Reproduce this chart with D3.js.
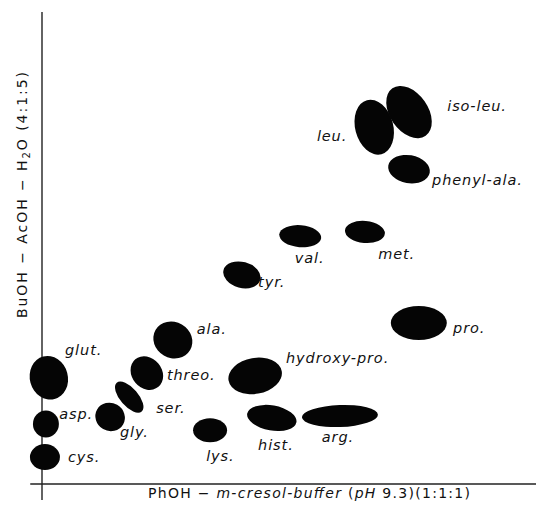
<!DOCTYPE html>
<html>
<head>
<meta charset="utf-8">
<script src="https://cdn.jsdelivr.net/npm/d3@7/dist/d3.min.js"></script>
<style>
  html, body { margin: 0; padding: 0; background: #fff; }
  svg { display: block; }
  .lbl { font-family: "DejaVu Sans", sans-serif; font-style: italic; font-size: 14.5px; letter-spacing: 0.9px; fill: #111; }
  .axl { font-family: "DejaVu Sans", sans-serif; font-size: 14px; fill: #111; }
</style>
</head>
<body>
<svg id="chart" width="536" height="516"></svg>
<script>
// Amino acid spots: Rf (x: PhOH – m-cresol-buffer, y: BuOH – AcOH – H2O), in % of the paper
const names   = ["cys.", "asp.", "glut.", "gly.", "ser.", "threo.", "ala.", "lys.", "tyr.",
                 "hydroxy-pro.", "hist.", "val.", "arg.", "met.", "leu.", "iso-leu.", "phenyl-ala.", "pro."];
const rfX     = [0.6, 0.8, 1.4, 13.9, 17.8, 21.4, 26.7, 34.3, 40.8, 43.5, 46.9, 52.7, 60.8, 65.9, 67.8, 74.9, 74.9, 76.9];
const rfY     = [5.7, 12.7, 22.5, 14.2, 18.4, 23.5, 30.5, 11.4, 44.3, 22.9, 14.0, 52.5, 14.4, 53.4, 75.6, 78.8, 66.7, 34.1];
// spot half-spread along its own axes (same units) and tilt (deg)
const spreadX = [3.06, 2.65, 3.88, 3.06, 1.84, 3.06, 4.08, 3.47, 3.88, 5.51, 5.10, 4.29, 7.76, 4.08, 3.88, 3.88, 4.29, 5.71];
const spreadY = [2.75, 2.86, 4.66, 2.97, 4.03, 3.81, 3.81, 2.54, 2.75, 3.81, 2.65, 2.33, 2.33, 2.33, 5.93, 6.14, 2.97, 3.60];
const tilt    = [0, 0, -15, 30, -41, -40, 30, 0, 15, -10, 10, 5, -2, 5, -15, -35, 10, 0];
// label anchors (same units)
const labX    = [5.3, 3.5, 4.7, 15.9, 23.3, 25.5, 31.6, 33.5, 44.1, 49.8, 44.1, 51.6, 57.1, 68.6, 56.1, 82.7, 79.6, 83.9];
const labY    = [4.7, 13.8, 27.3, 10.0, 15.0, 22.0, 31.8, 4.9, 41.7, 25.6, 7.2, 46.8, 8.9, 47.7, 72.7, 79.0, 63.3, 32.0];

const spots = names.map((n, i) => ({name: n, x: rfX[i], y: rfY[i], sx: spreadX[i], sy: spreadY[i], t: tilt[i], lx: labX[i], ly: labY[i]}));

const svg = d3.select("#chart");
const x = d3.scaleLinear().domain([0, 100]).range([42, 532]);
const y = d3.scaleLinear().domain([0, 100]).range([484, 12]);

// axes
svg.append("line").attr("x1", x(0)).attr("x2", x(0)).attr("y1", y(100)).attr("y2", y(-3.4))
  .attr("stroke", "#222").attr("stroke-width", 1.4);
svg.append("line").attr("x1", x(-2.4)).attr("x2", 536).attr("y1", y(0)).attr("y2", y(0))
  .attr("stroke", "#222").attr("stroke-width", 1.4);

// spots
svg.append("g").selectAll("ellipse").data(spots).join("ellipse")
  .attr("transform", d => `translate(${x(d.x)},${y(d.y)}) rotate(${d.t})`)
  .attr("rx", d => x(d.sx) - x(0))
  .attr("ry", d => y(0) - y(d.sy))
  .attr("fill", "#050505");

// labels
svg.append("g").selectAll("text").data(spots).join("text")
  .attr("class", "lbl")
  .attr("x", d => x(d.lx)).attr("y", d => y(d.ly))
  .text(d => d.name);

// x-axis title
const xt = svg.append("text").attr("class", "axl").attr("x", 148).attr("y", 498)
  .attr("textLength", 322).attr("lengthAdjust", "spacing");
xt.append("tspan").text("PhOH − ");
xt.append("tspan").attr("font-style", "italic").text("m-cresol-buffer");
xt.append("tspan").text(" (");
xt.append("tspan").attr("font-style", "italic").text("pH");
xt.append("tspan").text(" 9.3)(1:1:1)");

// y-axis title
const yt = svg.append("text").attr("class", "axl").attr("font-size", "15px")
  .attr("transform", "translate(27,318) rotate(-90)")
  .attr("x", 0).attr("y", 0)
  .attr("textLength", 246).attr("lengthAdjust", "spacing");
yt.append("tspan").text("BuOH − AcOH − H");
yt.append("tspan").attr("font-size", "10px").attr("dy", 3).text("2");
yt.append("tspan").attr("dy", -3).text("O (4:1:5)");
</script>
</body>
</html>
